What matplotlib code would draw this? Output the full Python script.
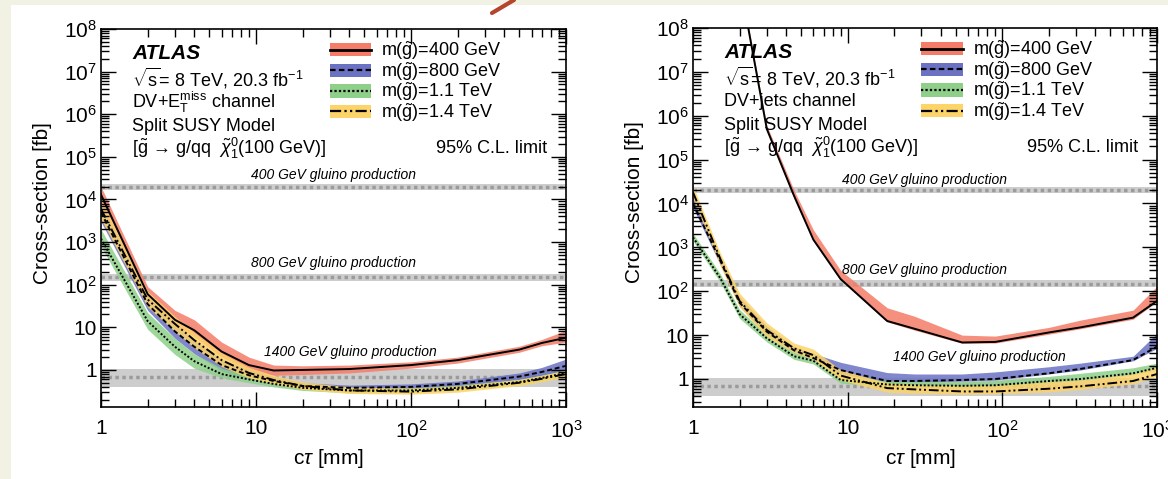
import numpy as np
import matplotlib
matplotlib.use('Agg')
import matplotlib.pyplot as plt
from matplotlib.lines import Line2D
from matplotlib.patches import Patch, Rectangle
from matplotlib.ticker import LogLocator, FuncFormatter, NullFormatter
import matplotlib.transforms as mtransforms

plt.rcParams['font.family'] = ['Liberation Sans', 'DejaVu Sans']
plt.rcParams['mathtext.fontset'] = 'custom'
plt.rcParams['mathtext.rm'] = 'Liberation Sans'
plt.rcParams['mathtext.it'] = 'Liberation Sans:italic'
plt.rcParams['mathtext.bf'] = 'Liberation Sans:bold'

# gluino production cross-sections [fb] (centre, low, high)
xsec_400 = [2.0e4, 1.7e4, 2.35e4]
xsec_800 = [150, 125, 180]
xsec_1400 = [0.7, 0.4, 1.05]

# ---- DV + MET channel (left) ----
ct_met = [1, 2, 3, 4, 6, 9, 13, 20, 40, 100, 200, 500, 700, 1000]
met_400 = [1.3e4, 60, 15, 8.5, 2.7, 1.3, 0.97, 1.0, 1.05, 1.3, 1.7, 3.0, 4.3, 5.7]
met_400_lo = [8e3, 45, 11, 6, 2.0, 1.0, 0.75, 0.78, 0.85, 1.1, 1.45, 2.6, 3.7, 4.5]
met_400_hi = [2.0e4, 90, 25, 15, 4.5, 2.0, 1.3, 1.25, 1.3, 1.55, 2.0, 3.6, 5.2, 8.5]
met_800 = [5e3, 35, 8, 3.5, 1.3, 0.75, 0.55, 0.42, 0.38, 0.4, 0.47, 0.7, 0.9, 1.25]
met_800_lo = [3e3, 25, 5.5, 2.4, 0.95, 0.6, 0.45, 0.36, 0.33, 0.35, 0.41, 0.6, 0.75, 1.0]
met_800_hi = [8e3, 55, 12, 5, 1.8, 1.0, 0.7, 0.5, 0.44, 0.47, 0.55, 0.85, 1.15, 1.8]
met_1100 = [1.2e3, 14, 3.5, 1.6, 0.8, 0.6, 0.47, 0.38, 0.33, 0.33, 0.38, 0.52, 0.65, 0.85]
met_1100_lo = [8e2, 9, 2.3, 1.1, 0.65, 0.5, 0.4, 0.33, 0.29, 0.29, 0.33, 0.45, 0.56, 0.72]
met_1100_hi = [2e3, 22, 5.5, 2.4, 1.1, 0.75, 0.56, 0.45, 0.38, 0.38, 0.44, 0.6, 0.75, 1.0]
met_1400 = [6e3, 45, 12, 5, 1.7, 0.85, 0.58, 0.42, 0.33, 0.31, 0.35, 0.5, 0.62, 0.8]
met_1400_lo = [3.5e3, 30, 8, 3.3, 1.2, 0.65, 0.47, 0.35, 0.28, 0.27, 0.3, 0.43, 0.53, 0.68]
met_1400_hi = [1e4, 70, 18, 7.5, 2.5, 1.15, 0.75, 0.52, 0.4, 0.37, 0.42, 0.6, 0.75, 0.98]

# ---- DV + jets channel (right) ----
ct_jets_400 = [2, 3, 4.5, 6, 9, 18, 27, 55, 90, 200, 320, 700, 1000]
jets_400 = [1.2e9, 5e5, 1.5e4, 1.5e3, 190, 21, 14, 6.8, 7, 11.5, 15, 25, 60]
jets_400_lo = [1.0e9, 4.5e5, 1.3e4, 1.4e3, 180, 20, 13, 6.5, 6.6, 10.5, 14, 23, 58]
jets_400_hi = [1.4e9, 6e5, 2e4, 2.5e3, 300, 42, 27, 10, 9.5, 15, 22, 37, 130]
ct_jets = [1, 1.5, 2, 3, 4.5, 6, 9, 18, 27, 55, 90, 200, 320, 700, 1000]
jets_800 = [1e4, 500, 55, 12, 4.5, 3.0, 1.6, 0.9, 0.9, 0.95, 1.0, 1.35, 1.7, 2.7, 5.5]
jets_800_lo = [8e3, 400, 45, 10, 4, 2.6, 1.3, 0.85, 0.85, 0.9, 0.95, 1.3, 1.6, 2.6, 5]
jets_800_hi = [1.4e4, 650, 75, 16, 5.5, 3.8, 2.4, 1.4, 1.3, 1.3, 1.45, 1.9, 2.3, 3.3, 11]
jets_1100 = [1.7e3, 200, 30, 8.5, 3.3, 2.6, 0.95, 0.75, 0.72, 0.7, 0.72, 0.9, 1.0, 1.35, 1.8]
jets_1100_lo = [1.4e3, 160, 24, 7, 2.8, 2.2, 0.8, 0.67, 0.65, 0.64, 0.66, 0.8, 0.92, 1.25, 1.6]
jets_1100_hi = [2.1e3, 250, 38, 10.5, 4.2, 3.6, 1.2, 0.92, 0.88, 0.87, 0.92, 1.15, 1.35, 1.8, 2.3]
jets_1400 = [1.8e4, 550, 60, 13, 5, 3.5, 1.2, 0.62, 0.58, 0.52, 0.52, 0.6, 0.68, 0.9, 1.3]
jets_1400_lo = [1.3e4, 380, 44, 9, 4, 2.8, 0.95, 0.5, 0.47, 0.45, 0.46, 0.51, 0.58, 0.78, 1.15]
jets_1400_hi = [2.5e4, 750, 90, 19, 6.6, 4.8, 1.6, 0.82, 0.75, 0.7, 0.72, 0.87, 0.95, 1.3, 1.9]

labels = [r'm($\tilde{\mathrm{g}}$)=400 GeV', r'm($\tilde{\mathrm{g}}$)=800 GeV',
          r'm($\tilde{\mathrm{g}}$)=1.1 TeV', r'm($\tilde{\mathrm{g}}$)=1.4 TeV']
band_colors = ['#f47c68', '#6b72c4', '#8ed08a', '#fdd46a']
line_styles = ['-', (0, (2.5, 1.5)), (0, (1, 1)), (0, (5, 1.5, 1, 1.5, 1, 1.5))]

W, H = 1168, 479
fig = plt.figure(figsize=(W / 100, H / 100), dpi=100)
fig.patch.set_facecolor('#f1f2e4')
fig.add_artist(Rectangle((11 / W, 0), 1, 1 - 5 / H, transform=fig.transFigure,
                         facecolor='white', edgecolor='none', zorder=-10))
fig.add_artist(Line2D([492 / W, 514 / W], [1 - 13 / H, 1.0], transform=fig.transFigure,
                      color='#b5452c', lw=3, solid_capstyle='round'))

ax1 = fig.add_axes([101 / W, 1 - 407 / H, 465 / W, 378 / H])
ax2 = fig.add_axes([693 / W, 1 - 407 / H, 464 / W, 379 / H])


def tick_fmt(v, pos):
    if abs(v - 1) < 1e-9:
        return '1'
    if abs(v - 10) < 1e-9:
        return '10'
    return r'$10^{%d}$' % round(np.log10(v))


def style_axes(ax, ymin):
    ax.set_xscale('log')
    ax.set_yscale('log')
    ax.set_xlim(1, 1000)
    ax.set_ylim(ymin, 1e8)
    ax.xaxis.set_major_locator(LogLocator(base=10, numticks=20))
    ax.yaxis.set_major_locator(LogLocator(base=10, numticks=20))
    ax.xaxis.set_minor_locator(LogLocator(base=10, subs=np.arange(2, 10), numticks=20))
    ax.yaxis.set_minor_locator(LogLocator(base=10, subs=np.arange(2, 10), numticks=20))
    ax.xaxis.set_major_formatter(FuncFormatter(tick_fmt))
    ax.yaxis.set_major_formatter(FuncFormatter(tick_fmt))
    ax.xaxis.set_minor_formatter(NullFormatter())
    ax.yaxis.set_minor_formatter(NullFormatter())
    ax.tick_params(which='both', direction='in', top=True, right=True, width=1)
    ax.tick_params(which='major', length=11)
    ax.tick_params(which='minor', length=6)
    ax.tick_params(axis='x', which='major', labelsize=15, pad=9)
    ax.tick_params(axis='y', which='major', labelsize=15, pad=3)
    for s in ax.spines.values():
        s.set_linewidth(1.2)
    ax.set_ylabel('Cross-section [fb]', fontsize=15, va='center')
    ax.yaxis.set_label_coords(-0.125, 0.54)
    ax.set_xlabel(r'c$\tau$ [mm]', fontsize=15, va='center')
    ax.xaxis.set_label_coords(0.49, -0.135)


def draw_reference(ax, pos400, pos800, pos1400):
    tr = mtransforms.blended_transform_factory(ax.transAxes, ax.transData)
    for xs in (xsec_400, xsec_800, xsec_1400):
        ax.axhspan(xs[1], xs[2], color='#cdcdcd', lw=0, zorder=0)
        ax.axhline(xs[0], color='#9b9b9b', lw=2.5, ls=(0, (1, 1)), zorder=0.5)
    ax.text(pos400[0], pos400[1], '400 GeV gluino production', transform=tr,
            ha='center', va='center', style='italic', fontsize=10)
    ax.text(pos800[0], pos800[1], '800 GeV gluino production', transform=tr,
            ha='center', va='center', style='italic', fontsize=10)
    ax.text(pos1400[0], pos1400[1], '1400 GeV gluino production', transform=tr,
            ha='center', va='center', style='italic', fontsize=10)


def draw_curves(ax, series):
    for (ct, mid, lo, hi), c in zip(series, band_colors):
        ax.fill_between(ct, lo, hi, color=c, lw=0, alpha=0.85, zorder=1)
    for (ct, mid, lo, hi), ls in zip(series, line_styles):
        ax.plot(ct, mid, color='black', lw=1.4, ls=ls, zorder=2)


def draw_texts(ax, channel):
    ax.text(0.067, 0.935, 'ATLAS', transform=ax.transAxes, fontsize=15,
            weight='bold', style='italic', va='center')
    ax.text(0.067, 0.87, r'$\sqrt{\mathrm{s}}$= 8 TeV, 20.3 fb$^{\mathrm{-1}}$',
            transform=ax.transAxes, fontsize=13, va='center')
    ax.text(0.067, 0.806, channel, transform=ax.transAxes, fontsize=13, va='center')
    ax.text(0.067, 0.742, 'Split SUSY Model', transform=ax.transAxes, fontsize=13,
            va='center')
    ax.text(0.067, 0.685,
            r'[$\tilde{\mathrm{g}}$ → g/qq  $\tilde{\chi}_{\mathrm{1}}^{\mathrm{0}}$(100 GeV)]',
            transform=ax.transAxes, fontsize=13, va='center')
    ax.text(0.96, 0.685, '95% C.L. limit', transform=ax.transAxes, fontsize=13,
            va='center', ha='right')
    handles = [(Patch(facecolor=c, edgecolor='none'),
                Line2D([], [], color='black', lw=2.0 if i == 0 else 1.6, ls=ls))
               for i, (c, ls) in enumerate(zip(band_colors, line_styles))]
    ax.legend(handles, labels, loc='upper left', bbox_to_anchor=(0.492, 0.972),
              frameon=False, fontsize=13, handlelength=2.3, handleheight=0.75,
              labelspacing=-0.1, handletextpad=0.55, borderpad=0, borderaxespad=0)


met_series = [(ct_met, met_400, met_400_lo, met_400_hi),
              (ct_met, met_800, met_800_lo, met_800_hi),
              (ct_met, met_1100, met_1100_lo, met_1100_hi),
              (ct_met, met_1400, met_1400_lo, met_1400_hi)]
jets_series = [(ct_jets_400, jets_400, jets_400_lo, jets_400_hi),
               (ct_jets, jets_800, jets_800_lo, jets_800_hi),
               (ct_jets, jets_1100, jets_1100_lo, jets_1100_hi),
               (ct_jets, jets_1400, jets_1400_lo, jets_1400_hi)]

style_axes(ax1, 0.135)
draw_reference(ax1, (0.5, 3.7e4), (0.5, 320), (0.537, 2.7))
draw_curves(ax1, met_series)
draw_texts(ax1, r'DV+E$_{\mathrm{T}}^{\mathrm{miss}}$ channel')

style_axes(ax2, 0.23)
draw_reference(ax2, (0.5, 3.5e4), (0.5, 310), (0.617, 3.1))
draw_curves(ax2, jets_series)
draw_texts(ax2, 'DV+jets channel')

fig.savefig('out.png', dpi=100, facecolor=fig.get_facecolor())
